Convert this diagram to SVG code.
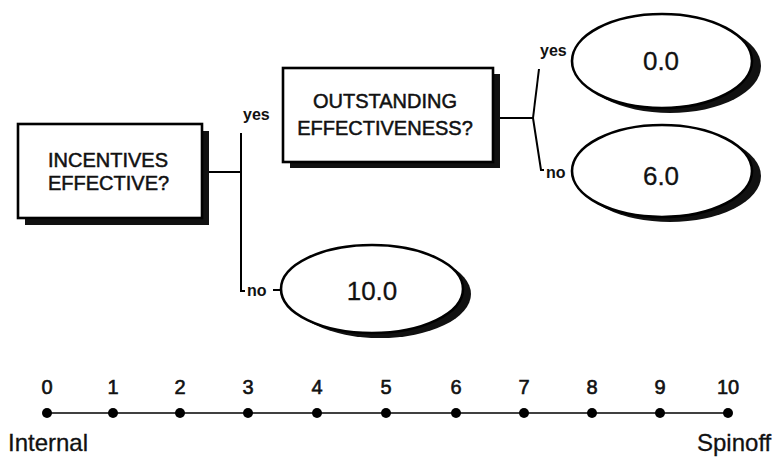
<svg xmlns="http://www.w3.org/2000/svg" width="776" height="459" viewBox="0 0 776 459">
  <style>
    .shadow { fill: #111; }
    .box { fill: #fff; stroke: #000; stroke-width: 2.6; }
    .oval { fill: #fff; stroke: #000; stroke-width: 2.6; }
    .wire { fill: none; stroke: #000; stroke-width: 2; }
    .axis { fill: none; stroke: #000; stroke-width: 1.6; }
    .dot { fill: #000; }
    text { font-family: "Liberation Sans", Arial, sans-serif; fill: #111; }
    .q { font-size: 20px; stroke: #111; stroke-width: 0.5; }
    .mid { text-anchor: middle; }
    .val { font-size: 26px; text-anchor: middle; stroke: #111; stroke-width: 0.3; }
    .lbl { font-size: 16px; font-weight: bold; }
    .num { font-size: 20px; text-anchor: middle; stroke: #111; stroke-width: 0.6; }
    .end { font-size: 24px; stroke: #111; stroke-width: 0.3; }
  </style>

  <!-- decision: incentives -->
  <g id="incentives">
    <rect class="shadow" x="25" y="131" width="184" height="94"/>
    <rect class="box" x="18" y="124" width="184" height="94"/>
    <text class="q" x="48" y="167">INCENTIVES</text>
    <text class="q" x="48" y="190">EFFECTIVE?</text>
  </g>

  <!-- decision: outstanding effectiveness -->
  <g id="outstanding">
    <rect class="shadow" x="290" y="74" width="210" height="94"/>
    <rect class="box" x="283" y="68" width="210" height="94"/>
    <text class="q mid" x="385" y="108">OUTSTANDING</text>
    <text class="q mid" x="385" y="135">EFFECTIVENESS?</text>
  </g>

  <!-- outcome values -->
  <g id="outcome-yes-yes">
    <ellipse class="shadow" cx="670" cy="66" rx="91" ry="47"/>
    <ellipse class="oval" cx="662" cy="61" rx="90" ry="47"/>
    <text class="val" x="661" y="70">0.0</text>
  </g>

  <g id="outcome-yes-no">
    <ellipse class="shadow" cx="670" cy="176" rx="91" ry="46"/>
    <ellipse class="oval" cx="662" cy="171" rx="90" ry="46"/>
    <text class="val" x="661" y="185">6.0</text>
  </g>

  <g id="outcome-no">
    <ellipse class="shadow" cx="380" cy="294" rx="91" ry="44"/>
    <ellipse class="oval" cx="372" cy="289" rx="91" ry="44"/>
    <text class="val" x="372" y="300">10.0</text>
  </g>

  <!-- branches -->
  <g id="connectors">
    <path class="wire" d="M209 172 H241"/>
    <path class="wire" d="M241 133 V291 H245"/>
    <path class="wire" d="M273 290 H281"/>
    <path class="wire" d="M500 118 H533"/>
    <path class="wire" d="M533 118 L539 69"/>
    <path class="wire" d="M533 118 L541 170 H544"/>
    <text class="lbl" x="243" y="120">yes</text>
    <text class="lbl" x="247" y="296">no</text>
    <text class="lbl" x="540" y="56">yes</text>
    <text class="lbl" x="546" y="178">no</text>
  </g>

  <!-- internal / spinoff scale -->
  <g id="scale">
    <line class="axis" x1="47" y1="413" x2="728" y2="413"/>
    <g class="dot">
      <circle cx="47" cy="413" r="5"/>
      <circle cx="113" cy="413" r="5"/>
      <circle cx="180" cy="413" r="5"/>
      <circle cx="248" cy="413" r="5"/>
      <circle cx="317" cy="413" r="5"/>
      <circle cx="386" cy="413" r="5"/>
      <circle cx="456" cy="413" r="5"/>
      <circle cx="524" cy="413" r="5"/>
      <circle cx="592" cy="413" r="5"/>
      <circle cx="660" cy="413" r="5"/>
      <circle cx="728" cy="413" r="5"/>
    </g>
    <text class="num" x="47" y="394">0</text>
    <text class="num" x="113" y="394">1</text>
    <text class="num" x="180" y="394">2</text>
    <text class="num" x="248" y="394">3</text>
    <text class="num" x="317" y="394">4</text>
    <text class="num" x="386" y="394">5</text>
    <text class="num" x="456" y="394">6</text>
    <text class="num" x="524" y="394">7</text>
    <text class="num" x="592" y="394">8</text>
    <text class="num" x="660" y="394">9</text>
    <text class="num" x="728" y="394">10</text>
    <text class="end" x="8" y="451">Internal</text>
    <text class="end" x="697" y="451">Spinoff</text>
  </g>
</svg>
